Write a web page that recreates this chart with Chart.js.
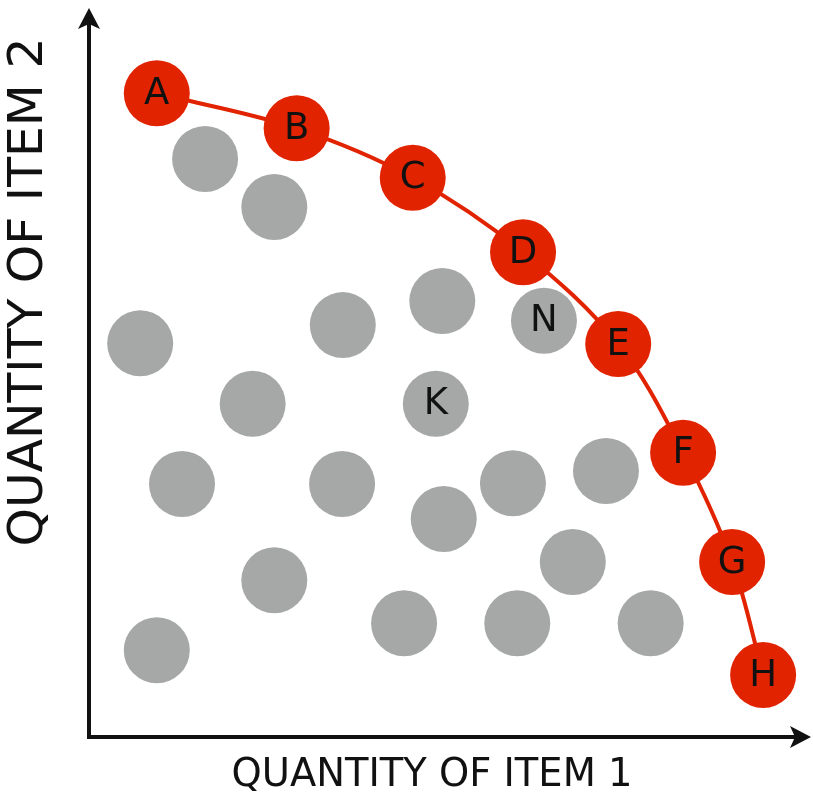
<!DOCTYPE html>
<html>
<head>
<meta charset="utf-8">
<script src="https://cdn.jsdelivr.net/npm/chart.js@4.4.1/dist/chart.umd.min.js"></script>
<style>
  html, body { margin: 0; padding: 0; background: #ffffff; }
  #wrap { width: 813px; height: 796px; position: relative; }
</style>
</head>
<body>
<div id="wrap"><canvas id="c"></canvas></div>
<script>
// ---- Data (axis units 0..10) ----
const frontierLabels = ['A', 'B', 'C', 'D', 'E', 'F', 'G', 'H'];
const frontierX = [0.94, 2.88, 4.49, 6.02, 7.34, 8.24, 8.92, 9.35];
const frontierY = [8.83, 8.35, 7.67, 6.65, 5.39, 3.90, 2.40, 0.85];

const insideLabels = ['', '', '', '', '', 'N', 'K', '', '', '', '', '', '', '', '', '', '', '', ''];
const insideX = [1.61, 2.57, 0.71, 3.52, 4.90, 6.31, 4.81, 2.27, 1.29, 3.51, 5.88, 7.17, 4.92, 2.57, 6.71, 0.94, 4.37, 5.94, 7.79];
const insideY = [7.93, 7.27, 5.40, 5.65, 5.98, 5.71, 4.57, 4.57, 3.47, 3.47, 3.48, 3.65, 2.99, 2.15, 2.40, 1.19, 1.56, 1.56, 1.56];

const xAxisTitle = 'QUANTITY OF ITEM 1';
const yAxisTitle = 'QUANTITY OF ITEM 2';

const RED = '#E12300';
const GREY = '#A6A8A7';
const INK = '#111111';
const FONT = '"DejaVu Sans", "Liberation Sans", sans-serif';

const frontierPoints = frontierX.map((x, i) => ({ x, y: frontierY[i] }));
const insidePoints = insideX.map((x, i) => ({ x, y: insideY[i] }));

function fitFont(ctx, text, targetWidth, base) {
  ctx.font = base + 'px ' + FONT;
  const w = ctx.measureText(text).width;
  return base * targetWidth / w;
}

const decorPlugin = {
  id: 'decor',
  afterDatasetsDraw(chart) {
    const ctx = chart.ctx;
    const sets = [
      { meta: chart.getDatasetMeta(0), labels: frontierLabels },
      { meta: chart.getDatasetMeta(1), labels: insideLabels }
    ];
    ctx.save();
    ctx.fillStyle = INK;
    ctx.textAlign = 'center';
    ctx.textBaseline = 'middle';
    ctx.font = '37px ' + FONT;
    sets.forEach(s => {
      s.meta.data.forEach((el, i) => {
        const t = s.labels[i];
        if (t) ctx.fillText(t, el.x, el.y + 1);
      });
    });
    ctx.restore();
  },
  afterDraw(chart) {
    const ctx = chart.ctx;
    const a = chart.chartArea;
    ctx.save();
    ctx.strokeStyle = INK;
    ctx.fillStyle = INK;
    ctx.lineWidth = 4;
    ctx.lineCap = 'butt';
    const ox = a.left, oy = a.bottom;
    // y axis
    ctx.beginPath();
    ctx.moveTo(ox, oy + 2);
    ctx.lineTo(ox, a.top + 12);
    ctx.stroke();
    // x axis
    ctx.beginPath();
    ctx.moveTo(ox - 2, oy);
    ctx.lineTo(a.right - 12, oy);
    ctx.stroke();
    // arrow heads
    const L = 21, W = 11, back = 5;
    ctx.beginPath();
    ctx.moveTo(ox, a.top);
    ctx.lineTo(ox - W, a.top + L);
    ctx.lineTo(ox, a.top + L - back);
    ctx.lineTo(ox + W, a.top + L);
    ctx.closePath();
    ctx.fill();
    ctx.beginPath();
    ctx.moveTo(a.right + 1, oy);
    ctx.lineTo(a.right + 1 - L, oy - W);
    ctx.lineTo(a.right + 1 - L + back, oy);
    ctx.lineTo(a.right + 1 - L, oy + W);
    ctx.closePath();
    ctx.fill();

    // axis titles
    ctx.textAlign = 'center';
    ctx.textBaseline = 'middle';
    const fx = fitFont(ctx, xAxisTitle, 401, 33);
    ctx.font = fx + 'px ' + FONT;
    ctx.fillText(xAxisTitle, 432, 776);
    const fy = fitFont(ctx, yAxisTitle, 509, 38);
    ctx.font = fy + 'px ' + FONT;
    ctx.translate(29, 292);
    ctx.rotate(-Math.PI / 2);
    ctx.fillText(yAxisTitle, 0, 0);
    ctx.restore();
  }
};

new Chart(document.getElementById('c'), {
  type: 'scatter',
  data: {
    datasets: [
      {
        label: 'Frontier',
        data: frontierPoints,
        showLine: true,
        tension: 0.35,
        borderColor: RED,
        borderWidth: 4,
        backgroundColor: RED,
        pointBackgroundColor: RED,
        pointBorderWidth: 0,
        pointRadius: 33,
        pointHoverRadius: 33,
        clip: false
      },
      {
        label: 'Inside',
        data: insidePoints,
        showLine: false,
        backgroundColor: GREY,
        pointBackgroundColor: GREY,
        pointBorderWidth: 0,
        pointRadius: 33,
        pointHoverRadius: 33,
        clip: false
      }
    ]
  },
  options: {
    responsive: true,
    maintainAspectRatio: false,
    animation: false,
    events: [],
    layout: { autoPadding: false, padding: { left: 89, right: 3, top: 8, bottom: 59 } },
    plugins: {
      legend: { display: false },
      tooltip: { enabled: false },
      title: { display: false }
    },
    scales: {
      x: { type: 'linear', min: 0, max: 10, display: false },
      y: { type: 'linear', min: 0, max: 10, display: false }
    }
  },
  plugins: [decorPlugin]
});
</script>
</body>
</html>
